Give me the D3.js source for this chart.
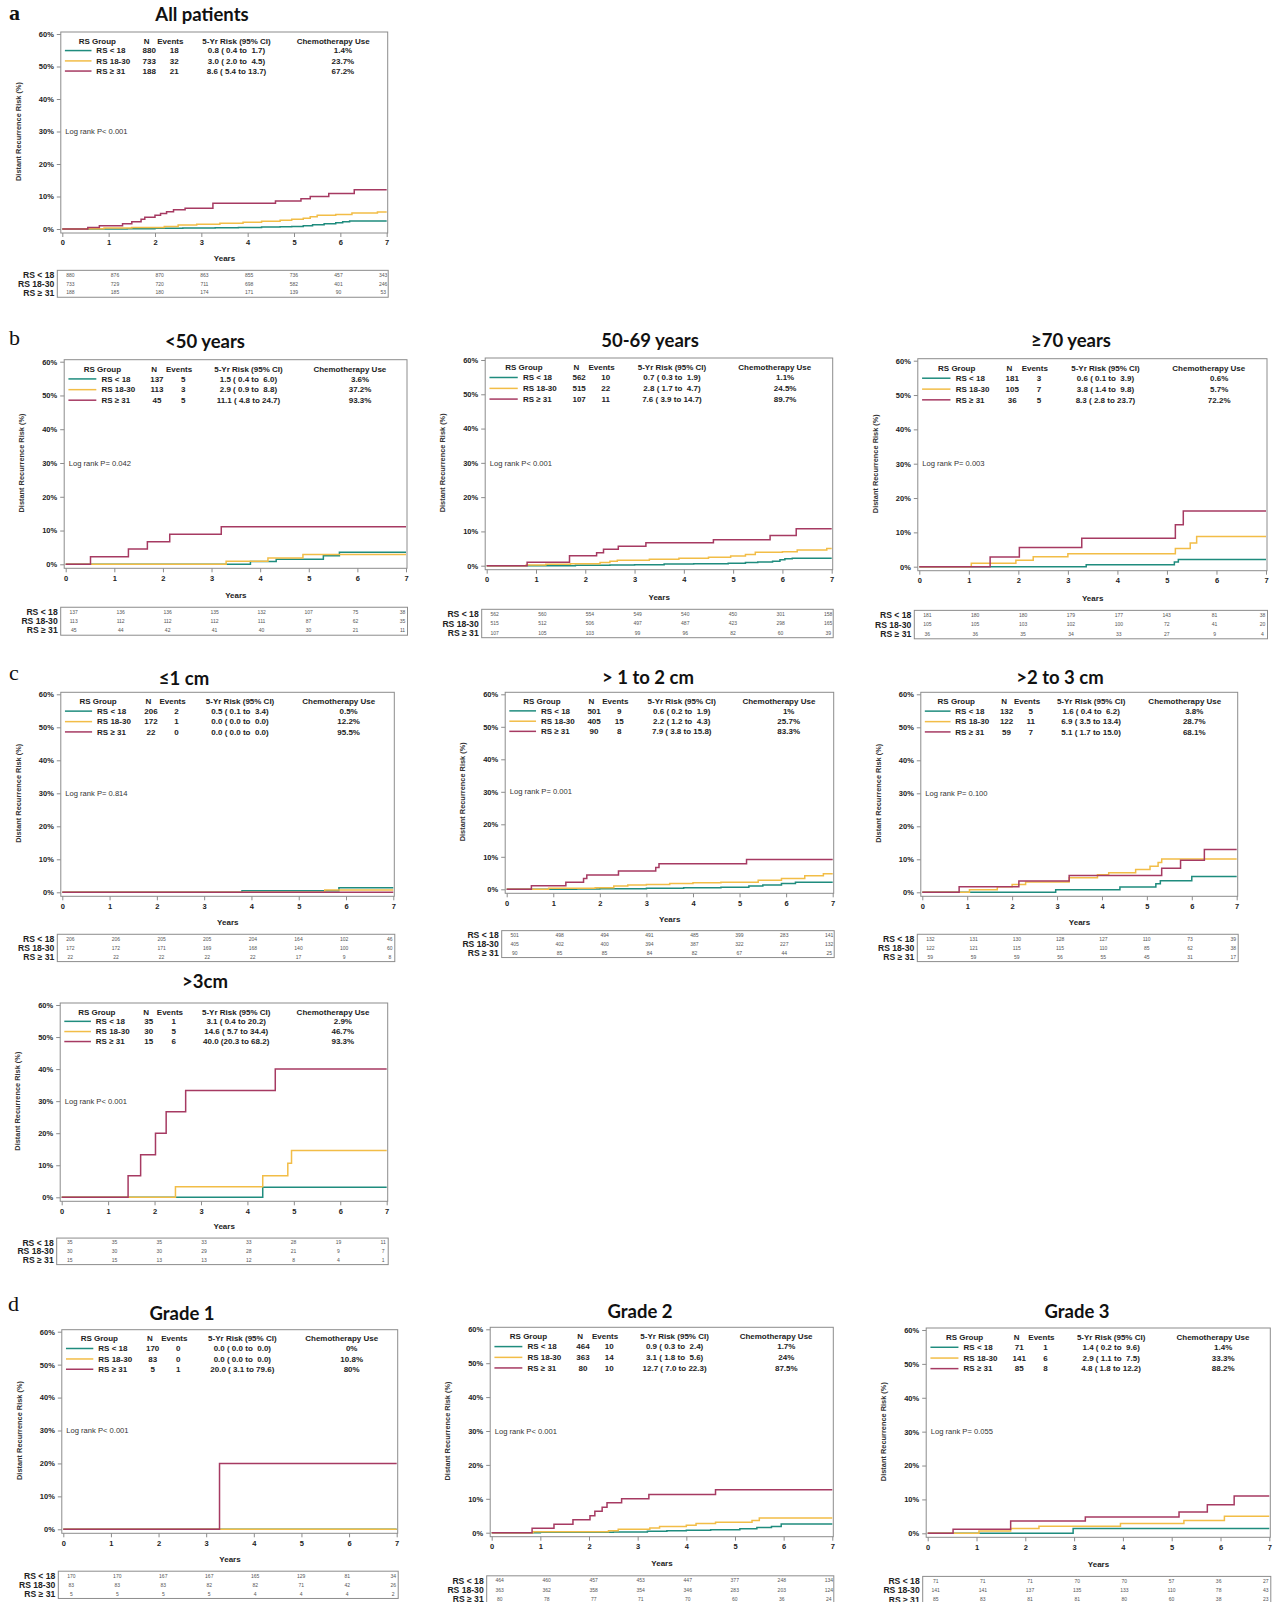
<!DOCTYPE html>
<html>
<head>
<meta charset="utf-8">
<script src="https://cdn.jsdelivr.net/npm/d3@7"></script>
<style>
  body { margin: 0; background: #fff; }
  text { white-space: pre; }
</style>
</head>
<body>
<svg id="chart" width="1276" height="1602"></svg>
<script>
// ---------- data ----------
const groupLabels = ["RS < 18", "RS 18-30", "RS \u2265 31"];
const xTicks = [0, 1, 2, 3, 4, 5, 6, 7];
const yTicks = [0, 10, 20, 30, 40, 50, 60];

const panelTitles = ["All patients", "<50 years", "50-69 years", "\u226570 years",
  "\u22641 cm", "> 1 to 2 cm", ">2 to 3 cm", ">3cm", "Grade 1", "Grade 2", "Grade 3"];
const panelLetters = ["a", "b", "", "", "c", "", "", "", "d", "", ""];
const logRankP = ["P< 0.001", "P= 0.042", "P< 0.001", "P= 0.003", "P= 0.814", "P= 0.001",
  "P= 0.100", "P< 0.001", "P< 0.001", "P< 0.001", "P= 0.055"];

const nPatients = [[880, 733, 188], [137, 113, 45], [562, 515, 107], [181, 105, 36],
  [206, 172, 22], [501, 405, 90], [132, 122, 59], [35, 30, 15], [170, 83, 5], [464, 363, 80], [71, 141, 85]];
const nEvents = [[18, 32, 21], [5, 3, 5], [10, 22, 11], [3, 7, 5], [2, 1, 0], [9, 15, 8],
  [5, 11, 7], [1, 5, 6], [0, 0, 1], [10, 14, 10], [1, 6, 8]];
const fiveYrEst = [[0.8, 3.0, 8.6], [1.5, 2.9, 11.1], [0.7, 2.8, 7.6], [0.6, 3.8, 8.3], [0.5, 0.0, 0.0],
  [0.6, 2.2, 7.9], [1.6, 6.9, 5.1], [3.1, 14.6, 40.0], [0.0, 0.0, 20.0], [0.9, 3.1, 12.7], [1.4, 2.9, 4.8]];
const fiveYrLo = [[0.4, 2.0, 5.4], [0.4, 0.9, 4.8], [0.3, 1.7, 3.9], [0.1, 1.4, 2.8], [0.1, 0.0, 0.0],
  [0.2, 1.2, 3.8], [0.4, 3.5, 1.7], [0.4, 5.7, 20.3], [0.0, 0.0, 3.1], [0.3, 1.8, 7.0], [0.2, 1.1, 1.8]];
const fiveYrHi = [[1.7, 4.5, 13.7], [6.0, 8.8, 24.7], [1.9, 4.7, 14.7], [3.9, 9.8, 23.7], [3.4, 0.0, 0.0],
  [1.9, 4.3, 15.8], [6.2, 13.4, 15.0], [20.2, 34.4, 68.2], [0.0, 0.0, 79.6], [2.4, 5.6, 22.3], [9.6, 7.5, 12.2]];
const chemoUse = [[1.4, 23.7, 67.2], [3.6, 37.2, 93.3], [1.1, 24.5, 89.7], [0.6, 5.7, 72.2], [0.5, 12.2, 95.5],
  [1, 25.7, 83.3], [3.8, 28.7, 68.1], [2.9, 46.7, 93.3], [0, 10.8, 80], [1.7, 24, 87.5], [1.4, 33.3, 88.2]];

// number at risk at years 0..7
const atRiskLow = [[880, 876, 870, 863, 855, 736, 457, 343], [137, 136, 136, 135, 132, 107, 75, 38],
  [562, 560, 554, 549, 540, 450, 301, 158], [181, 180, 180, 179, 177, 143, 81, 38],
  [206, 206, 205, 205, 204, 164, 102, 46], [501, 498, 494, 491, 485, 399, 283, 141],
  [132, 131, 130, 128, 127, 110, 73, 39], [35, 35, 35, 33, 33, 28, 19, 11],
  [170, 170, 167, 167, 165, 129, 81, 34], [464, 460, 457, 453, 447, 377, 248, 134],
  [71, 71, 71, 70, 70, 57, 36, 27]];
const atRiskMid = [[733, 729, 720, 711, 698, 582, 401, 246], [113, 112, 112, 112, 111, 87, 62, 35],
  [515, 512, 506, 497, 487, 423, 298, 165], [105, 105, 103, 102, 100, 72, 41, 20],
  [172, 172, 171, 169, 168, 140, 100, 60], [405, 402, 400, 394, 387, 322, 227, 132],
  [122, 121, 115, 115, 110, 85, 62, 38], [30, 30, 30, 29, 28, 21, 9, 7],
  [83, 83, 83, 82, 82, 71, 42, 26], [363, 362, 358, 354, 346, 283, 203, 124],
  [141, 141, 137, 135, 133, 110, 78, 43]];
const atRiskHigh = [[188, 185, 180, 174, 171, 139, 90, 53], [45, 44, 42, 41, 40, 30, 21, 11],
  [107, 105, 103, 99, 96, 82, 60, 39], [36, 36, 35, 34, 33, 27, 9, 4],
  [22, 22, 22, 22, 22, 17, 9, 8], [90, 85, 85, 84, 82, 67, 44, 25],
  [59, 59, 59, 56, 55, 45, 31, 17], [15, 15, 13, 13, 12, 8, 4, 1],
  [5, 5, 5, 5, 4, 4, 4, 2], [80, 78, 77, 71, 70, 60, 36, 24],
  [85, 83, 81, 81, 80, 60, 38, 23]];

// cumulative distant recurrence (%) step points: [year, risk]
const allLow = [[0,0],[1.4,0.1],[2.0,0.2],[2.6,0.3],[3.3,0.4],[3.8,0.5],[4.3,0.6],[4.7,0.7],[4.95,0.8],[5.2,1.0],[5.4,1.3],[5.65,1.6],[5.9,1.9],[6.05,2.2],[6.2,2.5]];
const allMid = [[0,0],[0.5,0.1],[0.9,0.3],[1.5,0.5],[2.2,0.8],[2.5,1.2],[2.9,1.5],[3.4,1.8],[3.9,2.1],[4.3,2.4],[4.7,2.7],[4.95,3.0],[5.2,3.3],[5.35,3.8],[5.5,4.2],[5.9,4.5],[6.25,4.9],[6.8,5.2]];
const allHigh = [[0,0],[0.55,0.5],[0.8,1.0],[1.3,1.6],[1.5,2.2],[1.7,3.0],[1.78,3.6],[2.0,4.2],[2.12,4.8],[2.25,5.3],[2.4,5.9],[2.65,6.4],[3.25,7.9],[4.6,8.6],[5.15,9.3],[5.35,10.0],[5.75,10.9],[6.3,12.1]];

const under50Low = [[0,0],[3.8,0.8],[4.33,1.5],[5.3,2.5],[5.63,3.6]];
const under50Mid = [[0,0],[3.3,0.9],[4.16,1.9],[4.88,2.9]];
const under50High = [[0,0],[0.51,2.2],[1.29,4.5],[1.68,6.7],[2.14,8.9],[3.2,11.1]];

const age5069Low = [[0,0],[1.8,0.1],[2.5,0.2],[3.0,0.3],[3.6,0.5],[4.2,0.6],[4.9,0.7],[5.25,0.9],[5.5,1.1],[5.8,1.3],[5.95,1.7],[6.05,2.0],[6.2,2.2]];
const age5069Mid = [[0,0],[0.8,0.2],[1.2,0.4],[1.7,0.6],[2.3,0.9],[2.5,1.3],[2.65,1.6],[3.3,1.9],[3.9,2.2],[4.5,2.5],[4.95,2.8],[5.25,3.3],[5.45,3.9],[6.0,4.1],[6.3,4.6],[6.9,5.0]];
const age5069High = [[0,0],[0.82,1.0],[1.68,2.9],[2.23,3.8],[2.37,4.8],[2.67,5.7],[3.23,6.7],[4.6,7.6],[5.75,8.8],[6.28,10.8]];

const age70Low = [[0,0],[3.37,0.6],[5.15,1.4],[5.23,2.1]];
const age70Mid = [[0,0],[1.05,1.0],[1.95,1.9],[2.3,2.9],[3.0,3.8],[5.17,5.3],[5.47,6.9],[5.6,8.8]];
const age70High = [[0,0],[1.43,2.8],[2.02,5.6],[3.28,8.3],[5.17,12.2],[5.33,16.2]];

const size1Low = [[0,0],[3.8,0.5],[5.85,1.4]];
const size1Mid = [[0,0],[5.55,0.7]];
const size1High = [[0,0]];

const size2Low = [[0,0],[1.5,0.1],[2.0,0.2],[3.0,0.3],[3.8,0.5],[4.6,0.6],[5.2,1.0],[5.5,1.3],[5.9,1.8],[6.2,2.2]];
const size2Mid = [[0,0],[0.9,0.3],[1.9,0.5],[2.3,1.0],[2.6,1.3],[3.0,1.5],[3.5,1.8],[4.0,2.0],[4.6,2.2],[5.4,2.8],[5.9,3.3],[6.4,4.2],[6.8,4.8]];
const size2High = [[0,0],[0.53,1.1],[1.27,2.2],[1.65,3.3],[1.72,4.4],[2.4,5.6],[3.2,6.7],[3.27,7.9],[5.15,9.2]];

const size3Low = [[0,0],[2.97,0.8],[4.4,1.6],[5.2,2.6],[5.3,3.5],[6.0,4.8]];
const size3Mid = [[0,0],[1.05,0.8],[1.67,1.7],[2.0,2.4],[2.3,3.1],[3.27,4.4],[3.9,5.3],[4.15,5.9],[4.75,6.9],[5.07,7.9],[5.25,9.0],[5.33,10.1]];
const size3High = [[0,0],[0.82,1.7],[2.15,3.4],[3.27,5.1],[5.33,7.3],[5.75,9.7],[6.28,13.0]];

const sizeBigLow = [[0,0],[4.33,3.1]];
const sizeBigMid = [[0,0],[2.45,3.3],[4.33,6.7],[4.87,10.6],[4.95,14.6]];
const sizeBigHigh = [[0,0],[1.43,6.7],[1.7,13.3],[2.02,20.0],[2.25,26.7],[2.67,33.3],[4.6,40.0]];

const grade1Low = [[0,0]];
const grade1Mid = [[0,0]];
const grade1High = [[0,0],[3.28,20.0]];

const grade2Low = [[0,0],[1.0,0.1],[2.5,0.2],[3.2,0.4],[3.6,0.6],[4.0,0.7],[4.5,0.9],[5.1,1.2],[5.45,1.5],[5.75,1.8],[5.95,2.6]];
const grade2Mid = [[0,0],[0.85,0.3],[2.4,0.6],[2.6,1.0],[3.25,1.4],[3.45,1.8],[4.0,2.2],[4.2,2.7],[4.6,3.1],[5.35,3.6],[5.5,4.3]];
const grade2High = [[0,0],[0.83,1.3],[1.28,2.5],[1.67,3.8],[2.02,5.0],[2.12,6.3],[2.27,7.5],[2.37,8.8],[2.67,10.0],[3.23,11.3],[4.6,12.7]];

const grade3Low = [[0,0],[2.98,1.4]];
const grade3Mid = [[0,0],[1.05,0.7],[1.7,1.4],[2.28,2.1],[3.95,2.9],[5.25,3.8],[6.08,5.0]];
const grade3High = [[0,0],[0.52,1.2],[1.7,3.6],[3.23,4.8],[5.15,6.3],[5.73,8.4],[6.28,11.0]];

const curves = [
  [allLow, allMid, allHigh], [under50Low, under50Mid, under50High], [age5069Low, age5069Mid, age5069High],
  [age70Low, age70Mid, age70High], [size1Low, size1Mid, size1High], [size2Low, size2Mid, size2High],
  [size3Low, size3Mid, size3High], [sizeBigLow, sizeBigMid, sizeBigHigh], [grade1Low, grade1Mid, grade1High],
  [grade2Low, grade2Mid, grade2High], [grade3Low, grade3Mid, grade3High]
];

// ---------- layout & style ----------
const colors = ["#1f8c7e", "#f2bd47", "#a63a62"];
const frameColor = "#8c8c8c";
const textColor = "#222";
const sansFont = "'Liberation Sans', Arial, sans-serif";

// plot-area corners per panel: x of year 0 / 7, y of 60% / 0%, title anchor, letter anchor
const layout = [
  { x0: 62.3, x7: 386.7, y60: 34, y0: 229, tx: 202, ty: 21, lx: 9, ly: 20 },
  { x0: 65.7, x7: 406, y60: 361.7, y0: 564.3, tx: 205, ty: 348, lx: 9, ly: 345 },
  { x0: 486.7, x7: 831.7, y60: 360, y0: 565.7, tx: 650, ty: 347 },
  { x0: 919.3, x7: 1266, y60: 360.7, y0: 566.7, tx: 1071, ty: 347 },
  { x0: 62.3, x7: 393.3, y60: 694.3, y0: 892.3, tx: 184, ty: 685, lx: 9, ly: 680 },
  { x0: 506.7, x7: 832.7, y60: 694.3, y0: 889.3, tx: 648, ty: 684 },
  { x0: 922.3, x7: 1236.7, y60: 694.3, y0: 892.3, tx: 1060, ty: 684 },
  { x0: 61.7, x7: 386.7, y60: 1005, y0: 1197.3, tx: 205, ty: 988 },
  { x0: 63.3, x7: 396.7, y60: 1331.7, y0: 1529.3, tx: 182, ty: 1320, lx: 8, ly: 1311 },
  { x0: 491.7, x7: 832.3, y60: 1329.3, y0: 1532.7, tx: 640, ty: 1318 },
  { x0: 927.7, x7: 1269.3, y60: 1330, y0: 1533.3, tx: 1077, ty: 1318 }
];

const svg = d3.select("#chart");
svg.append("rect").attr("width", 1276).attr("height", 1602).attr("fill", "#fff");

const pad4 = v => v.toFixed(1).padStart(4, " ");
const riskText = (e, lo, hi) => `${e.toFixed(1)} (${pad4(lo)} to ${pad4(hi)})`;

function drawPanel(i) {
  const L = layout[i];
  const W = L.x7 - L.x0, H = L.y0 - L.y60;
  const x = d3.scaleLinear().domain([0, 7]).range([L.x0, L.x7]);
  const y = d3.scaleLinear().domain([0, 60]).range([L.y0, L.y60]);
  const g = svg.append("g").attr("font-family", sansFont).attr("fill", textColor);

  // title and panel letter
  g.append("text").attr("x", L.tx).attr("y", L.ty).attr("text-anchor", "middle")
    .attr("font-family", "Lato, 'Open Sans', sans-serif").attr("font-weight", 700)
    .attr("font-size", 18.5).attr("fill", "#111").text(panelTitles[i]);
  if (panelLetters[i]) {
    g.append("text").attr("x", L.lx).attr("y", L.ly)
      .attr("font-family", "'Liberation Serif', 'Times New Roman', serif")
      .attr("font-weight", panelLetters[i] === "a" ? 700 : 400)
      .attr("font-size", 22).attr("fill", "#111").text(panelLetters[i]);
  }

  // frame
  const fl = L.x0 - 1.5, fr = L.x7 + 1, ft = L.y60 - 2, fb = L.y0 + 4;
  g.append("rect").attr("x", fl).attr("y", ft).attr("width", fr - fl).attr("height", fb - ft)
    .attr("fill", "none").attr("stroke", frameColor).attr("stroke-width", 1);

  // axes
  const yAxis = g.append("g").attr("transform", `translate(${fl},0)`)
    .call(d3.axisLeft(y).tickValues(yTicks).tickFormat(d => d + "%").tickSize(4).tickPadding(3));
  const xAxis = g.append("g").attr("transform", `translate(0,${fb})`)
    .call(d3.axisBottom(x).tickValues(xTicks).tickFormat(d3.format("d")).tickSize(4).tickPadding(3));
  [yAxis, xAxis].forEach(a => {
    a.select(".domain").remove();
    a.selectAll(".tick line").attr("stroke", frameColor);
    a.selectAll(".tick text").attr("font-family", sansFont).attr("font-weight", 700)
      .attr("font-size", 7.5).attr("fill", textColor);
  });

  g.append("text").attr("x", (L.x0 + L.x7) / 2).attr("y", L.y0 + 0.152 * H).attr("dy", "0.35em")
    .attr("text-anchor", "middle").attr("font-weight", 700).attr("font-size", 8).text("Years");
  g.append("text")
    .attr("transform", `translate(${L.x0 - 44},${(L.y0 + L.y60) / 2}) rotate(-90)`)
    .attr("text-anchor", "middle").attr("dy", "0.35em").attr("font-weight", 700)
    .attr("font-size", 7.4).attr("fill", "#333").text("Distant Recurrence Risk (%)");

  // log-rank annotation
  g.append("text").attr("x", L.x0 + 3).attr("y", y(30)).attr("dy", "0.35em")
    .attr("font-size", 7.6).attr("fill", "#333").text("Log rank " + logRankP[i]);

  // curves (low risk first so the high-risk line sits on top)
  const line = d3.line().x(d => x(d[0])).y(d => y(d[1])).curve(d3.curveStepAfter);
  curves[i].forEach((pts, k) => {
    const full = pts.concat([[7, pts[pts.length - 1][1]]]);
    g.append("path").datum(full).attr("d", line).attr("fill", "none")
      .attr("stroke", colors[k]).attr("stroke-width", 1.5);
  });

  // legend table
  const lx = f => L.x0 + f * W;
  const hy = L.y60 + 0.035 * H;
  const rowY = [0.085, 0.138, 0.19].map(f => L.y60 + f * H);
  const head = [["RS Group", 0.108], ["N", 0.26], ["Events", 0.333],
    ["5-Yr Risk (95% CI)", 0.537], ["Chemotherapy Use", 0.835]];
  head.forEach(([t, f]) => g.append("text").attr("x", lx(f)).attr("y", hy).attr("dy", "0.35em")
    .attr("text-anchor", "middle").attr("font-weight", 700).attr("font-size", 8).text(t));
  groupLabels.forEach((lab, k) => {
    const ry = rowY[k];
    g.append("line").attr("x1", lx(0.008)).attr("x2", lx(0.09)).attr("y1", ry).attr("y2", ry)
      .attr("stroke", colors[k]).attr("stroke-width", 1.5);
    const cells = [[lab, 0.105, "start"], [String(nPatients[i][k]), 0.268, "middle"],
      [String(nEvents[i][k]), 0.345, "middle"],
      [riskText(fiveYrEst[i][k], fiveYrLo[i][k], fiveYrHi[i][k]), 0.537, "middle"],
      [chemoUse[i][k] + "%", 0.865, "middle"]];
    cells.forEach(([t, f, anc]) => g.append("text").attr("x", lx(f)).attr("y", ry).attr("dy", "0.35em")
      .attr("text-anchor", anc).attr("font-weight", 700).attr("font-size", 8).text(t));
  });

  // number-at-risk table
  const tTop = L.y0 + 0.212 * H, tH = 0.138 * H;
  const bl = L.x0 - 5, br = L.x7 + 1.5;
  g.append("rect").attr("x", bl).attr("y", tTop).attr("width", br - bl).attr("height", tH)
    .attr("fill", "none").attr("stroke", frameColor).attr("stroke-width", 1);
  const col = d3.scaleLinear().domain([0, 7]).range([bl + 13, br - 5]);
  const rows = [atRiskLow[i], atRiskMid[i], atRiskHigh[i]];
  [0.17, 0.5, 0.83].forEach((f, k) => {
    const ry = tTop + f * tH;
    g.append("text").attr("x", bl - 3).attr("y", ry).attr("dy", "0.35em").attr("text-anchor", "end")
      .attr("font-weight", 700).attr("font-size", 8.6).text(groupLabels[k]);
    g.selectAll(null).data(rows[k]).join("text")
      .attr("x", (d, j) => col(xTicks[j])).attr("y", ry).attr("dy", "0.35em")
      .attr("text-anchor", "middle").attr("font-size", 5).attr("fill", "#555").text(d => d);
  });
}

layout.forEach((_, i) => drawPanel(i));
</script>
</body>
</html>
